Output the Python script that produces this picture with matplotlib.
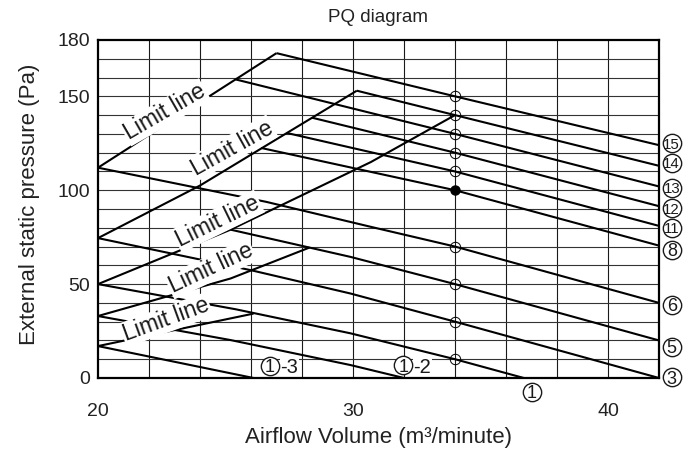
import matplotlib
matplotlib.use("Agg")
import matplotlib.pyplot as plt
import numpy as np

plt.rcParams['font.family'] = ['Liberation Sans', 'DejaVu Sans']

# ---------------- data (airflow m3/min, pressure Pa) ----------------
x_ticks = [20, 30, 40]
y_ticks = [0, 50, 100, 150, 180]

# fan curves
fan15_q = [27.0, 34.0, 42.0]
fan15_p = [173.0, 150.0, 124.0]
fan14_q = [30.15, 34.0, 42.0]
fan14_p = [153.0, 140.0, 113.0]
fan13_q = [25.4, 34.0, 42.0]
fan13_p = [159.0, 130.0, 102.0]
fan12_q = [28.4, 34.0, 42.0]
fan12_p = [138.6, 120.0, 91.5]
fan11_q = [27.4, 34.0, 42.0]
fan11_p = [130.5, 110.0, 81.0]
fan8_q = [26.4, 34.0, 42.0]
fan8_p = [122.5, 100.0, 70.5]
fan6_q = [20.0, 26.6, 30.7, 34.0, 42.0]
fan6_p = [112.0, 93.8, 80.5, 70.0, 40.0]
fan5_q = [25.2, 29.9, 34.0, 42.0]
fan5_p = [79.0, 64.5, 50.0, 20.0]
fan3_q = [20.0, 26.0, 29.9, 34.0, 42.0]
fan3_p = [74.5, 57.4, 45.0, 30.0, 0.0]
fan1_q = [20.0, 25.4, 29.9, 34.0, 36.7]
fan1_p = [50.0, 36.6, 23.8, 10.0, 0.0]
fan1_2_q = [20.0, 25.2, 29.9, 32.0]
fan1_2_p = [33.0, 20.2, 6.9, 0.0]
fan1_3_q = [20.0, 26.1]
fan1_3_p = [17.0, 0.0]

# limit lines
lim1_q = [20.0, 27.0]
lim1_p = [112.0, 173.0]
lim2_q = [20.0, 24.0, 30.15]
lim2_p = [74.5, 102.5, 153.0]
lim3_q = [20.0, 25.2, 30.7, 34.0]
lim3_p = [50.0, 79.0, 115.0, 140.0]
lim4_q = [20.0, 25.2, 28.3]
lim4_p = [33.0, 53.0, 69.5]
lim5_q = [20.0, 26.1]
lim5_p = [17.0, 34.3]

# measuring points at 34 m3/min
point_q = 34.0
open_points_p = [150, 140, 130, 120, 110, 70, 50, 30, 10]
filled_points_p = [100]

# right-end curve numbers
end_numbers = ['15', '14', '13', '12', '11', '8', '6', '5', '3']
end_number_p = [125.0, 114.5, 101.2, 90.5, 79.9, 68.2, 38.9, 16.6, 0.5]

# ---------------- figure ----------------
W, H = 685, 450
fig = plt.figure(figsize=(W / 100, H / 100), dpi=100)
L, R, T, B = 98, 659, 40, 378
ax = fig.add_axes([L / W, 1 - B / H, (R - L) / W, (B - T) / H])
ax.set_xlim(20, 42)
ax.set_ylim(0, 180)

# grid
for gx in np.arange(22, 42, 2):
    ax.axvline(gx, color='#1a1a1a', lw=0.8, zorder=1)
for gy in np.arange(10, 180, 10):
    ax.axhline(gy, color='#333333', lw=0.8, zorder=1)

lw = 1.5
fans = [(fan15_q, fan15_p), (fan14_q, fan14_p), (fan13_q, fan13_p), (fan12_q, fan12_p),
        (fan11_q, fan11_p), (fan8_q, fan8_p), (fan6_q, fan6_p), (fan5_q, fan5_p),
        (fan3_q, fan3_p), (fan1_q, fan1_p), (fan1_2_q, fan1_2_p), (fan1_3_q, fan1_3_p)]
for q, p in fans:
    ax.plot(q, p, color='black', lw=lw, zorder=3, solid_capstyle='butt')
lims = [(lim1_q, lim1_p), (lim2_q, lim2_p), (lim3_q, lim3_p), (lim4_q, lim4_p), (lim5_q, lim5_p)]
for q, p in lims:
    ax.plot(q, p, color='black', lw=lw, zorder=3, solid_capstyle='butt')

ax.plot([point_q] * len(open_points_p), open_points_p, 'o', ms=7.5, mfc='none',
        mec='black', mew=0.7, zorder=4)
ax.plot([point_q] * len(filled_points_p), filled_points_p, 'o', ms=6.5, color='black', zorder=4)

# limit line labels (centre in data, rotation)
limit_label_pos = [(22.63, 141.5, 30), (25.25, 122.5, 29), (24.7, 83.5, 26),
                   (24.43, 58.3, 25), (22.67, 31.0, 20)]
for xq, yp, rot in limit_label_pos:
    ax.text(xq, yp, 'Limit line', rotation=rot, ha='center', va='center',
            fontsize=16.5, zorder=5, rotation_mode='anchor', color='#1a1a1a',
            bbox=dict(facecolor='white', edgecolor='none', pad=0.8))


def circled(xq, yp, s):
    """Draw a circled number centred at (xq, yp) in data coordinates."""
    ax.plot([xq], [yp], 'o', ms=13.2, mfc='white', mec='#1a1a1a', mew=1.0,
            zorder=7, clip_on=False)
    fs = 13 if len(s) == 1 else 10.8
    ax.text(xq, yp, s, ha='center', va='center_baseline', fontsize=fs, color='#1a1a1a',
            zorder=8, clip_on=False)


for s, yp in zip(end_numbers, end_number_p):
    circled(42.5, yp, s)

circled(37.02, -7.45, '1')
circled(26.75, 6.5, '1')
ax.text(27.15, 6.5, '-3', ha='left', va='center_baseline', fontsize=14.5, color='#1a1a1a', zorder=5,
        bbox=dict(facecolor='white', edgecolor='none', pad=0.3))
circled(31.97, 6.7, '1')
ax.text(32.37, 6.7, '-2', ha='left', va='center_baseline', fontsize=14.5, color='#1a1a1a', zorder=5,
        bbox=dict(facecolor='white', edgecolor='none', pad=0.3))

# axes styling
for s in ax.spines.values():
    s.set_linewidth(1.6)
    s.set_zorder(6)
ax.set_xticks(x_ticks)
ax.set_yticks(y_ticks)
ax.tick_params(axis='both', length=0, labelsize=14, colors='#222222')
ax.tick_params(axis='x', pad=18)
ax.tick_params(axis='y', pad=6)

fig.text(378.5 / W, 1 - 17 / H, 'PQ diagram', ha='center', va='center', fontsize=13.5, color='#222222')
fig.text(379 / W, 1 - 437 / H, 'Airflow Volume (m³/minute)', ha='center', va='center',
         fontsize=16, color='#222222')
fig.text(30 / W, 1 - 204 / H, 'External static pressure (Pa)', ha='center', va='center',
         rotation=90, fontsize=16, color='#222222')

fig.savefig('out.png', dpi=100)
